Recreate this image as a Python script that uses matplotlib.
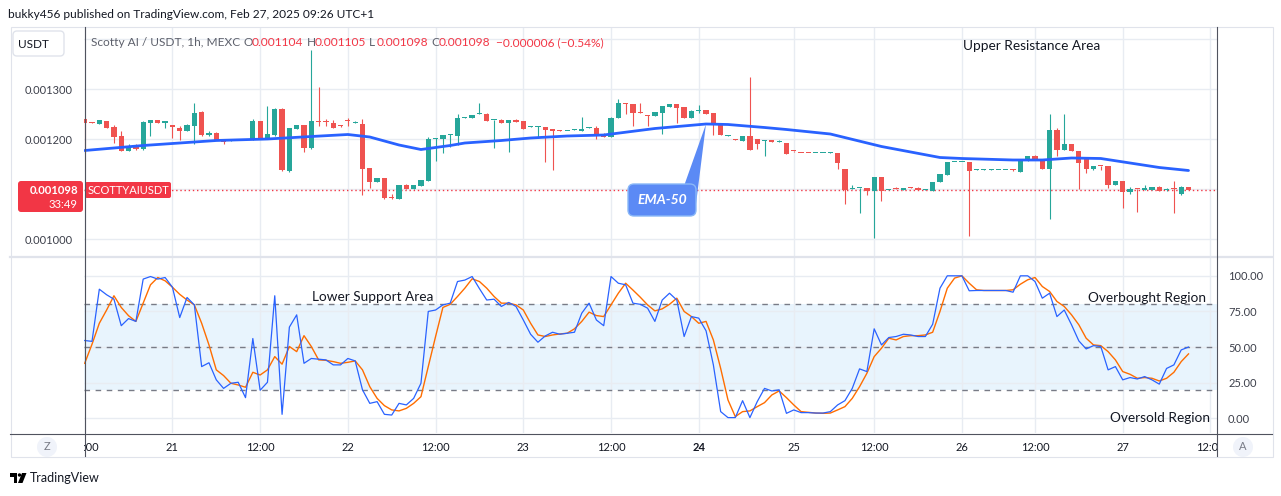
import matplotlib.pyplot as plt
import numpy as np
from matplotlib.patches import FancyBboxPatch, Polygon, Rectangle, Circle
from matplotlib.lines import Line2D
from matplotlib.transforms import Affine2D

plt.rcParams['font.family'] = ['Lato', 'DejaVu Sans']

W, H = 1281, 496

# hourly candles, prices in 1e-6 USDT
opens = [1241, 1234, 1231, 1236, 1225, 1207, 1177, 1187, 1180, 1233,
         1238, 1233, 1228, 1223, 1217, 1227, 1255, 1209, 1212, 1201,
         1196, 1199, 1199, 1199, 1237, 1203, 1209, 1261, 1137, 1221,
         1229, 1183, 1237, 1235, 1232, 1228, 1238, 1233, 1231, 1143,
         1115, 1123, 1083, 1081, 1109, 1101, 1107, 1117, 1201, 1201,
         1209, 1207, 1243, 1243, 1250, 1251, 1238, 1239, 1233, 1239,
         1237, 1225, 1225, 1225, 1220, 1218, 1216, 1219, 1217, 1223,
         1223, 1211, 1205, 1242, 1271, 1271, 1254, 1248, 1247, 1253,
         1265, 1271, 1265, 1243, 1257, 1259, 1253, 1231, 1207, 1200,
         1197, 1207, 1201, 1197, 1198, 1195, 1193, 1177, 1173, 1173,
         1172, 1172, 1172, 1173, 1141, 1100, 1102, 1103, 1097, 1125,
         1099, 1102, 1098, 1103, 1103, 1099, 1097, 1115, 1129, 1154,
         1154, 1154, 1138, 1138, 1138, 1138, 1138, 1139, 1135, 1157,
         1167, 1161, 1141, 1219, 1179, 1191, 1177, 1162, 1141, 1147,
         1147, 1109, 1117, 1095, 1101, 1098, 1099, 1105, 1099, 1101,
         1091, 1104]
highs = [1242, 1235, 1237, 1236, 1229, 1217, 1190, 1190, 1237, 1239,
         1238, 1236, 1228, 1227, 1231, 1272, 1257, 1217, 1214, 1201,
         1200, 1200, 1200, 1241, 1237, 1266, 1262, 1262, 1223, 1229,
         1229, 1379, 1304, 1241, 1238, 1229, 1243, 1236, 1241, 1143,
         1123, 1123, 1091, 1109, 1111, 1109, 1119, 1205, 1202, 1209,
         1210, 1251, 1245, 1249, 1273, 1252, 1239, 1240, 1239, 1241,
         1237, 1226, 1226, 1225, 1221, 1218, 1217, 1220, 1245, 1225,
         1226, 1212, 1245, 1281, 1272, 1271, 1273, 1248, 1254, 1267,
         1271, 1271, 1265, 1258, 1269, 1259, 1253, 1231, 1208, 1200,
         1207, 1325, 1201, 1198, 1198, 1198, 1193, 1177, 1173, 1173,
         1173, 1173, 1174, 1173, 1141, 1109, 1103, 1103, 1125, 1125,
         1100, 1104, 1103, 1104, 1104, 1100, 1115, 1130, 1154, 1155,
         1155, 1154, 1140, 1140, 1140, 1139, 1139, 1141, 1157, 1167,
         1168, 1161, 1250, 1223, 1251, 1191, 1177, 1163, 1147, 1147,
         1147, 1117, 1117, 1104, 1101, 1109, 1105, 1106, 1103, 1117,
         1106, 1105]
lows = [1172, 1232, 1231, 1223, 1193, 1177, 1177, 1179, 1178, 1207,
        1233, 1222, 1203, 1199, 1217, 1190, 1207, 1207, 1199, 1191,
        1196, 1198, 1199, 1199, 1203, 1201, 1207, 1137, 1135, 1221,
        1175, 1181, 1226, 1227, 1223, 1225, 1226, 1232, 1089, 1102,
        1115, 1080, 1081, 1081, 1101, 1101, 1107, 1117, 1157, 1173,
        1185, 1189, 1243, 1243, 1250, 1237, 1183, 1233, 1175, 1235,
        1221, 1225, 1203, 1155, 1139, 1217, 1216, 1218, 1216, 1222,
        1200, 1205, 1205, 1242, 1250, 1227, 1253, 1227, 1247, 1211,
        1265, 1233, 1243, 1243, 1252, 1251, 1209, 1209, 1207, 1199,
        1197, 1179, 1181, 1167, 1195, 1194, 1171, 1175, 1172, 1172,
        1172, 1172, 1172, 1141, 1071, 1100, 1053, 1089, 1003, 1077,
        1099, 1100, 1098, 1102, 1098, 1099, 1097, 1115, 1129, 1154,
        1154, 1007, 1138, 1138, 1138, 1138, 1138, 1137, 1135, 1157,
        1159, 1141, 1041, 1167, 1179, 1177, 1101, 1133, 1139, 1139,
        1103, 1109, 1063, 1091, 1055, 1098, 1099, 1097, 1097, 1053,
        1089, 1098]
closes = [1233, 1233, 1237, 1223, 1205, 1177, 1186, 1181, 1234, 1238,
          1233, 1236, 1224, 1217, 1229, 1252, 1209, 1213, 1199, 1195,
          1200, 1200, 1200, 1237, 1203, 1211, 1261, 1139, 1223, 1229,
          1183, 1237, 1235, 1234, 1223, 1227, 1237, 1234, 1141, 1115,
          1123, 1083, 1082, 1109, 1101, 1109, 1119, 1201, 1202, 1209,
          1210, 1243, 1244, 1249, 1251, 1237, 1239, 1233, 1239, 1235,
          1221, 1226, 1226, 1219, 1217, 1217, 1217, 1220, 1220, 1224,
          1209, 1205, 1243, 1272, 1270, 1253, 1253, 1247, 1254, 1266,
          1271, 1263, 1243, 1257, 1258, 1251, 1229, 1209, 1208, 1199,
          1207, 1179, 1191, 1198, 1195, 1196, 1171, 1176, 1172, 1172,
          1173, 1173, 1173, 1153, 1099, 1101, 1103, 1097, 1125, 1097,
          1100, 1101, 1103, 1102, 1098, 1100, 1115, 1130, 1154, 1155,
          1155, 1137, 1139, 1139, 1139, 1139, 1139, 1138, 1157, 1167,
          1159, 1141, 1219, 1179, 1191, 1177, 1153, 1141, 1147, 1146,
          1109, 1117, 1095, 1101, 1100, 1102, 1105, 1097, 1101, 1100,
          1104, 1098]

# EMA-50 at a few bars
ema_bars = [0, 8, 18, 25, 31, 36, 39, 43, 46, 50, 52, 57, 61, 66, 71, 78, 85,
            88, 93, 96, 102, 109, 117, 120, 127, 131, 135, 139, 143, 147, 151]
ema_vals = [1177, 1187, 1197, 1200, 1205, 1209, 1204, 1188, 1179, 1187, 1192,
            1197, 1202, 1206, 1208, 1221, 1230, 1229, 1223, 1219, 1210, 1185,
            1163, 1161, 1158, 1158, 1162, 1161, 1152, 1143, 1137]

# Stochastic RSI %K (blue) and %D (orange)
stoch_k = [54.6, 54, 90.6, 86.7, 83.6, 65, 70, 68, 97.7, 99.5,
           97.7, 98.8, 92, 70.7, 84.8, 79.6, 36.3, 39, 27, 21,
           24.6, 25.3, 14.5, 56, 19.7, 25.3, 86, 2.8, 64, 72.6,
           38.6, 42, 41.5, 41, 37.5, 37.5, 42, 40.3, 20, 10.5,
           11.7, 2.8, 2.3, 10.5, 9.4, 14, 24.6, 75, 76, 79.6,
           80.8, 96, 97, 99.5, 91, 83, 83.6, 78.5, 81.3, 78.5,
           69, 59, 53.4, 57.8, 60.4, 59, 59.7, 60.4, 73.8, 80.8,
           69, 65, 99.5, 94.8, 93.7, 80.8, 80, 77.3, 68, 83,
           87.8, 83, 57.4, 71.4, 70.3, 61.4, 37.5, 4.7, 0.5, 0.5,
           12.4, 0.5, 11.7, 21, 19.2, 20, 3.5, 5.9, 4, 4,
           3.7, 3.7, 4.7, 9.4, 12.4, 21, 34.7, 32.8, 62.8, 51.5,
           56.7, 57.4, 59, 58.5, 57.4, 57.4, 66, 91.3, 100, 100,
           100, 89.5, 89.7, 89.7, 89.7, 89.7, 89.7, 88.5, 100, 100,
           96, 84.3, 87.8, 71.4, 76, 65.6, 54.3, 48.7, 51, 50.4,
           34, 36.3, 27, 28.6, 27.6, 29.3, 27, 24, 35, 37.5,
           48, 50]
stoch_d = [38.6, 52, 66.7, 76, 86, 77.8, 72, 68, 80.8, 93.7,
           98.8, 96.5, 92, 87, 83, 79.6, 66.7, 51.5, 34, 30,
           24.6, 23.4, 21.8, 32.3, 30.4, 34, 43.3, 38, 50.4, 46.8,
           58, 50.4, 41, 40.7, 39.8, 38.6, 39.3, 40.3, 34, 22.2,
           14, 8.9, 5.9, 5.2, 7, 10.5, 15.2, 36.3, 57.4, 77.8,
           80, 85.5, 91.3, 97.9, 96, 91.3, 85.5, 80.8, 80.8, 79.6,
           76, 66.7, 58.5, 57.4, 58.5, 59.2, 59.7, 62.8, 68, 74.5,
           72.1, 71.4, 79.6, 87.8, 94.8, 90, 85, 79.6, 75.4, 76.8,
           80, 84.3, 75, 71.4, 66.7, 68, 55, 35, 12.9, 1.2,
           4.7, 5.2, 8.2, 11, 16.4, 19.2, 14.5, 9.4, 4.7, 4.2,
           3.7, 3.5, 3.7, 5.9, 8.2, 14, 22.2, 31.6, 43.3, 49.2,
           56.2, 55, 57.4, 58, 58, 58.5, 60.4, 75, 91.3, 98.4,
           100, 94.8, 90.2, 89.7, 89.7, 89.7, 89.7, 90.2, 94.1, 97.2,
           98.8, 92.5, 89, 82, 78.5, 72.6, 65.6, 56.2, 51.5, 51,
           46.8, 41, 32.8, 30.9, 28.1, 28.6, 28.1, 26.2, 28.1, 32.3,
           39.8, 45.2]

tick_bars = [0, 12, 24, 36, 48, 60, 72, 84, 97, 108, 120, 130, 142, 154]
tick_labels = ['12:00', '21', '12:00', '22', '12:00', '23', '12:00', '24',
               '25', '12:00', '26', '12:00', '27', '12:00']
price_ticks = [1000, 1100, 1200, 1300, 1400]
price_labels = ['0.001000', '', '0.001200', '0.001300', '']
stoch_ticks = [0, 25, 50, 75, 100]

UP, DN = '#26a69a', '#ef5350'
RED = '#f23645'
GRID = '#e8ecf2'
TXT = '#131722'

fig = plt.figure(figsize=(W / 100, H / 100), dpi=100)
fig.patch.set_facecolor('white')
# pixel coords (origin top-left) for decorations
pix = Affine2D().scale(1 / W, -1 / H).translate(0, 1) + fig.transFigure


def axes_px(x0, y0, x1, y1):
    return fig.add_axes([x0 / W, 1 - y1 / H, (x1 - x0) / W, (y1 - y0) / H])


def ptext(x, y, s, **kw):
    kw.setdefault('va', 'center')
    return fig.text(x, y, s, transform=pix, **kw)


X0, DX = 84.7, 7.31
xlim = ((84 - X0) / DX, (1217 - X0) / DX)

ax = axes_px(84, 27, 1217, 256)
ax2 = axes_px(84, 258, 1217, 433)
axt = axes_px(84, 433, 1217, 456)

o = np.array(opens) * 1e-6
h = np.array(highs) * 1e-6
l = np.array(lows) * 1e-6
c = np.array(closes) * 1e-6
idx = np.arange(len(o))
cols = np.where(c >= o, UP, DN)

# --- price panel ---
ax.set_xlim(xlim)
ax.set_ylim(966e-6, 1424e-6)
ax.vlines(idx, l, h, colors=cols, lw=0.8, zorder=3)
body = np.maximum(np.abs(c - o), 1.6e-6)
ax.bar(idx, body, bottom=np.minimum(o, c), width=0.72, color=cols, lw=0, zorder=4)
ax.plot(ema_bars, np.array(ema_vals) * 1e-6, color='#2962ff', lw=2.0, zorder=5,
        solid_capstyle='round', solid_joinstyle='round')
ax.axhline(c[-1], color=RED, lw=1, ls=(0, (1, 2)), zorder=2)

ax.set_xticks(tick_bars)
ax.set_yticks(np.array(price_ticks) * 1e-6)
ax.set_yticklabels(price_labels)
ax.grid(True, color=GRID, lw=1)
ax.set_axisbelow(True)
ax.tick_params(length=0, labelbottom=False, labelsize=8, labelcolor='#3c3f4a', pad=8)
for s in ax.spines.values():
    s.set_visible(False)

# --- stochastic RSI panel ---
ax2.set_xlim(xlim)
ax2.set_ylim(-10.3, 112.5)
ax2.axhspan(20, 80, color='#2196f3', alpha=0.1, lw=0, zorder=0)
for v in (20, 50, 80):
    ax2.axhline(v, color='#787b86', lw=1, ls=(0, (4, 4)), zorder=1)
ax2.plot(idx, stoch_d, color='#ff6d00', lw=1.0, zorder=3)
ax2.plot(idx, stoch_k, color='#2962ff', lw=0.9, zorder=4)
ax2.set_xticks(tick_bars)
ax2.set_yticks(stoch_ticks)
ax2.set_yticklabels([f'{v:.2f}' for v in stoch_ticks])
ax2.yaxis.tick_right()
ax2.grid(True, color=GRID, lw=1)
ax2.set_axisbelow(True)
ax2.tick_params(length=0, labelbottom=False, labelsize=8, labelcolor='#3c3f4a', pad=8)
for s in ax2.spines.values():
    s.set_visible(False)

# --- time axis ---
axt.set_xlim(xlim)
axt.set_ylim(0, 1)
axt.axis('off')
for b, lab in zip(tick_bars, tick_labels):
    axt.text(b, 0.39, lab, ha='center', va='center', fontsize=8, color=TXT,
             clip_on=True, fontweight='bold' if lab == '24' else 'normal')

# --- frame lines ---
fig.add_artist(Rectangle((10.5, 26.5), 1262, 430, fill=False, ec='#e0e3eb', lw=0.8, transform=pix))
fig.add_artist(Line2D([10, 1272], [256.5, 256.5], color='#e0e3eb', lw=1.6, transform=pix))
fig.add_artist(Line2D([10, 1272], [433.5, 433.5], color='#50535e', lw=0.8, transform=pix))
for xv in (84.5, 1216.5):
    fig.add_artist(Line2D([xv, xv], [27, 456], color='#50535e', lw=0.8, transform=pix))

# --- header texts ---
ptext(8, 14, 'bukky456 published on TradingView.com, Feb 27, 2025 09:26 UTC+1',
      fontsize=8.6, color=TXT)
fig.add_artist(FancyBboxPatch((13, 31), 51, 25, boxstyle='round,pad=0,rounding_size=4',
                              fc='white', ec='#e0e3eb', lw=1, transform=pix))
ptext(18, 44, 'USDT', fontsize=8.5, color=TXT)
ptext(91, 43, 'Scotty AI / USDT, 1h, MEXC', fontsize=8.6, color='#5d606b')
chg = closes[-1] - closes[-2]
ohlc = [('O', 244, opens[-1]), ('H', 307, highs[-1]), ('L', 369, lows[-1]), ('C', 431, closes[-1])]
for letter, xp, val in ohlc:
    ptext(xp, 43, letter, fontsize=8.6, color='#5d606b')
    ptext(xp + 8, 43, f'{val * 1e-6:.6f}', fontsize=8.6, color=RED)
ptext(496, 43, f'\u2212{abs(chg) * 1e-6:.6f} (\u2212{abs(chg) / closes[-2] * 100:.2f}%)',
      fontsize=8.6, color=RED)

# --- last price labels ---
fig.add_artist(FancyBboxPatch((18, 181), 65, 31, boxstyle='round,pad=0,rounding_size=3',
                              fc=RED, ec='none', transform=pix))
ptext(78, 190.5, f'{closes[-1] * 1e-6:.6f}', fontsize=8.2, color='white',
      fontweight='bold', ha='right')
ptext(78, 204.5, '33:49', fontsize=8.2, color='white', ha='right')
fig.add_artist(FancyBboxPatch((85, 182), 86, 16, boxstyle='round,pad=0,rounding_size=2',
                              fc=RED, ec='none', transform=pix))
ptext(88, 190, 'SCOTTYAIUSDT', fontsize=8, color='white')

# --- annotations ---
ptext(963, 46, 'Upper Resistance Area', fontsize=9.8, color=TXT)
ptext(312, 297, 'Lower Support Area', fontsize=9.8, color=TXT)
ptext(1088, 298, 'Overbought Region', fontsize=9.8, color=TXT)
ptext(1110, 418, 'Oversold Region', fontsize=9.8, color=TXT)

fig.add_artist(Polygon([(684, 186), (706, 124), (696, 204)], closed=True,
                       fc='#5b8af5', ec='none', transform=pix))
fig.add_artist(FancyBboxPatch((628, 184), 68, 32, boxstyle='round,pad=0,rounding_size=6',
                              fc='#5b8af5', ec='#8ab8f7', lw=1, transform=pix))
ptext(662, 200, 'EMA-50', fontsize=10, color='white', style='italic',
      fontweight='bold', ha='center')

# --- corner buttons and footer ---
for xc, s in ((47, 'Z'), (1243, 'A')):
    fig.add_artist(Circle((xc, 447), 10, fc='#f0f3fa', ec='none', transform=pix))
    ptext(xc, 447, s, fontsize=8, color='#787b86', ha='center')
# TradingView logo
fig.add_artist(Polygon([(10, 473), (17, 473), (17, 483), (13.5, 483), (13.5, 476.5), (10, 476.5)],
                       closed=True, fc='black', ec='none', transform=pix))
fig.add_artist(Circle((19.5, 475), 1.7, fc='black', ec='none', transform=pix))
fig.add_artist(Polygon([(22, 473), (26.5, 473), (22.5, 483), (18, 483)],
                       closed=True, fc='black', ec='none', transform=pix))
ptext(30, 478, 'TradingView', fontsize=9, color=TXT)

fig.savefig('out.png', dpi=100, facecolor='white')
